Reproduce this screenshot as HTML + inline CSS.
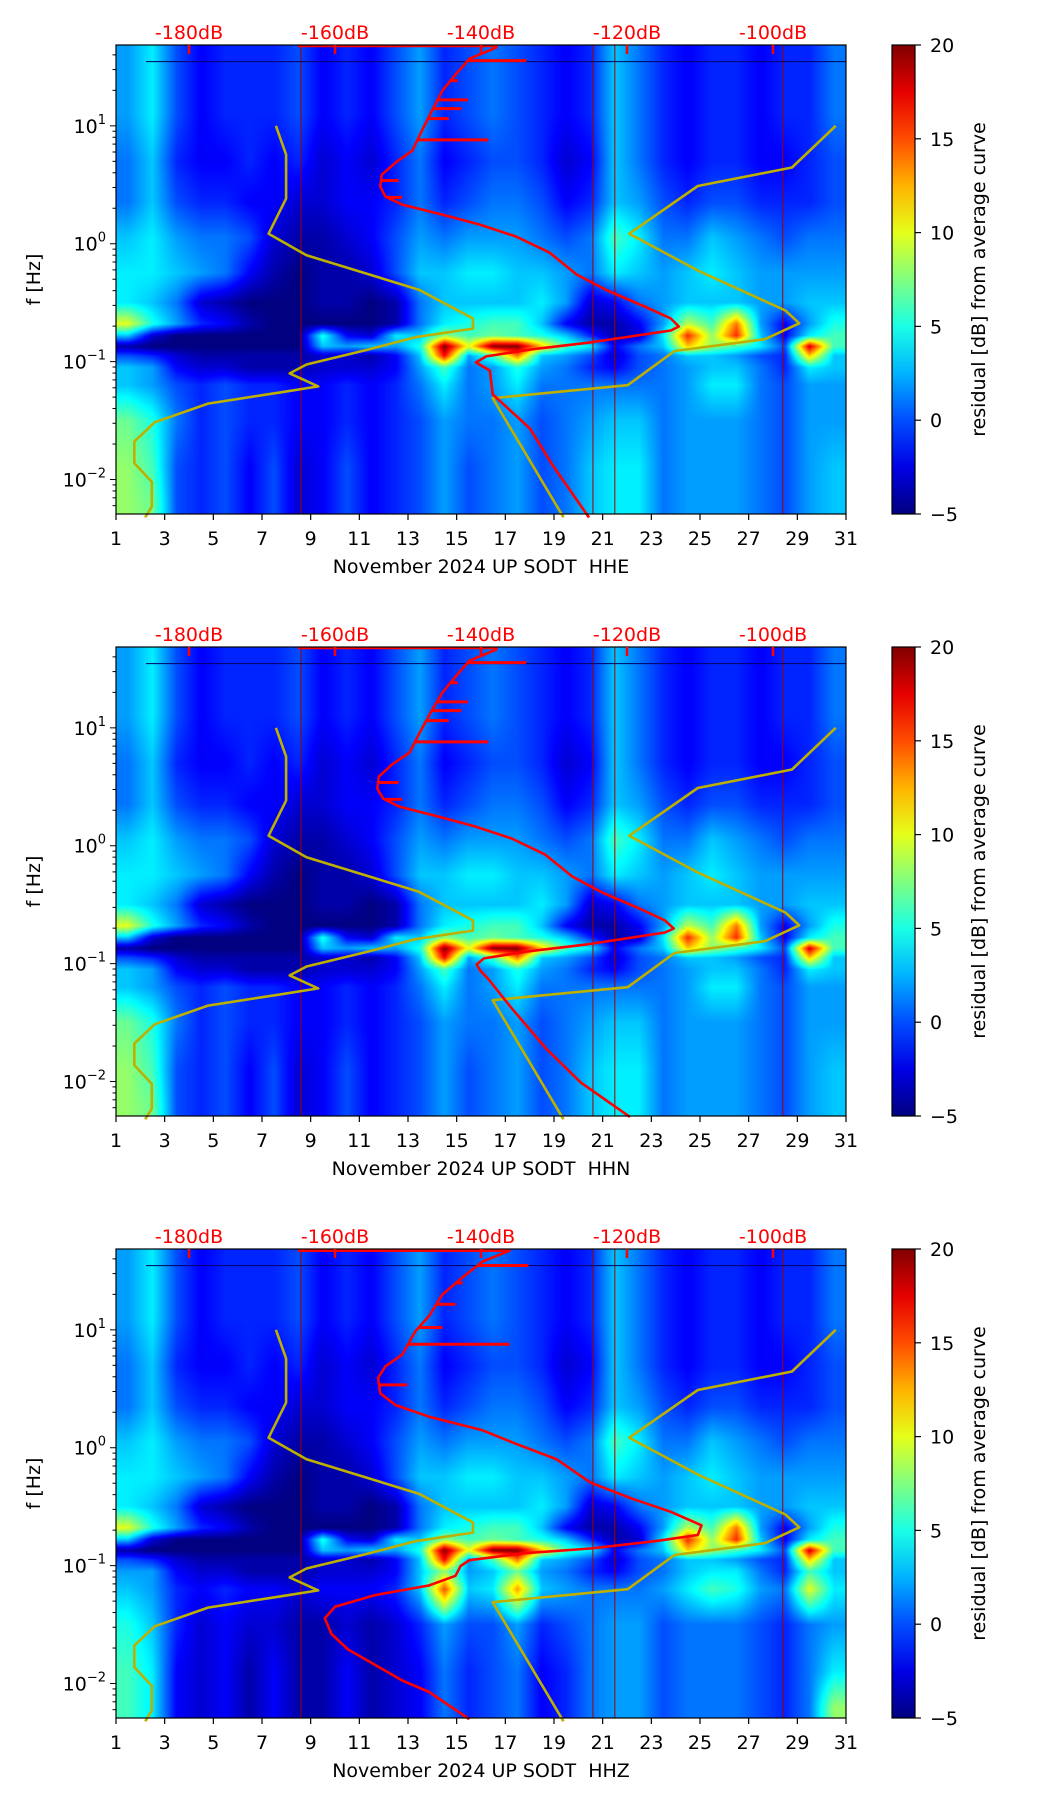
<!DOCTYPE html>
<html><head><meta charset="utf-8">
<style>
html,body{margin:0;padding:0;background:#fff;}
#wrap{position:relative;width:1052px;height:1806px;overflow:hidden;background:#fff;}
canvas{position:absolute;}
svg{position:absolute;left:0;top:0;}
text{font-family:"DejaVu Sans","Liberation Sans",sans-serif;}
</style></head>
<body>
<div id="wrap">
<svg id="ov" width="1052" height="1806"></svg>
</div>
<script>
// ---- layout ----
const PL=116, PR=846, PW=PR-PL, PH=469;
const panelTops=[45,647,1249];
const panelNames=["HHE","HHN","HHZ"];
const CBL=892, CBR=915;
const LOGMAX=Math.log10(48.5), LOGMIN=Math.log10(0.0051);

// ---- data: residual grid (rows = log10 f, cols = day 1..30) ----
const rowLogF=[1.5,1.1,0.7,0.35,0.05,-0.25,-0.5,-0.68,-0.78,-0.87,-0.95,-1.05,-1.2,-1.5,-1.9,-2.2];
const gridBase=[
[2,4,0,-2,-1,-1,-1,0,-2,-1,-2,0,2,-1,0,1,0,-1,-2,-1,3,1,-1,-2,-1,-1,-2,-1,-1,1],
[2,4,0,-2,-1,-1,-1,0,-2,-1,-2,0,2,-1,0,1,0,-1,-2,-1,3,1,-1,-2,-1,-1,-2,-1,-1,1],
[1,3,-1,-2,-2,-1,-2,-1,-3,-2,-3,-1,1,-2,-1,0,0,-1,-3,-2,3,1,-1,-2,-1,-1,-2,-2,-1,0],
[1,3,0,-1,-1,-2,-2,-3,-3,-2,-2,-1,1,-1,0,1,1,0,-2,-1,3,2,0,-1,0,0,-1,-1,-1,0],
[3,4,2,1,1,0,-3,-4,-4,-3,-2,0,2,1,2,2,2,1,0,1,6,4,1,1,3,2,1,0,1,1],
[4,4,3,2,1,-2,-4,-5,-4,-4,-3,0,3,3,4,4,3,3,2,1,4,3,2,3,4,3,2,2,2,2],
[4,3,1,-3,-4,-5,-5,-5,-4,-4,-5,-4,1,3,3,3,3,4,2,-3,-2,1,2,3,3,3,2,2,3,3],
[10,5,2,-1,-2,-4,-5,-5,-5,-5,-5,-4,1,4,5,6,6,3,-2,-4,-4,-2,2,9,6,14,2,-2,2,5],
[3,-3,-5,-5,-5,-5,-5,-5,5,-2,-3,4,3,8,6,7,6,5,3,-1,-4,-3,4,16,8,16,3,-2,4,6],
[-4,-5,-5,-5,-5,-5,-5,-5,3,2,3,2,5,20,10,20,20,12,6,4,-2,1,3,12,8,6,4,0,18,6],
[0,-1,-3,-4,-4,-4,-4,-4,-3,-3,-4,-2,3,17,2,6,14,3,2,0,-3,0,1,3,3,2,0,-1,12,3],
[3,2,-2,-3,-3,-4,-4,-4,-3,-3,-3,-2,2,6,1,2,5,2,1,-1,-2,0,1,2,3,3,1,-1,4,3],
[3,2,0,-1,0,-1,-1,-2,-2,-1,-2,-1,1,4,1,2,4,1,1,1,1,1,1,2,4,4,1,0,2,2],
[7,5,1,-1,0,-1,-1,-2,-2,-1,-2,-1,0,2,1,1,2,0,1,2,3,3,1,2,2,2,1,0,2,2],
[8,6,0,-1,0,-2,0,-3,-2,0,-2,-1,0,2,0,1,2,0,1,3,4,4,1,2,2,2,1,0,2,3],
[8,7,0,-1,0,-2,0,-3,-2,0,-2,-1,0,2,0,1,2,0,1,3,4,4,1,2,2,2,1,0,2,3]];
// HHZ low-frequency rows (rows 11..15)
const gridZLow=[
[2,2,-2,-3,-3,-4,-4,-4,-3,-3,-3,-2,3,8,2,3,7,2,1,-1,-2,0,1,3,4,4,1,-1,6,3],
[3,2,-1,-2,-1,-2,-2,-3,-2,-2,-2,-1,3,15,3,4,13,3,2,1,1,1,2,4,6,5,2,1,10,4],
[5,3,-1,-3,-2,-3,-3,-4,-4,-3,-4,-3,-1,2,0,0,2,-1,0,1,2,2,0,1,1,1,0,-1,1,2],
[6,4,-2,-3,-2,-4,-2,-4,-4,-2,-4,-3,-2,1,-1,0,1,-2,-1,1,2,2,0,1,1,1,0,-1,1,4],
[6,4,-2,-3,-2,-4,-2,-4,-4,-2,-4,-3,-2,1,-1,0,1,-2,-1,1,2,2,0,1,1,1,0,-1,1,8]];

// ---- data: red curves (dB, log10 f) ----
const redDbE=[-165.1,-137.9,-137.9,-141.6,-143.5,-145.3,-146.7,-148.1,-149.4,-151.7,-153.6,-153.8,-153.1,-150.8,-145.3,-140.2,-135.2,-130.6,-126.9,-122.7,-117.6,-114.0,-112.9,-114.0,-125.0,-133.3,-139.3,-140.7,-138.8,-138.4,-133.3,-130.1,-125.2];
const redLfE=[1.678,1.678,1.664,1.569,1.434,1.298,1.129,0.959,0.790,0.688,0.586,0.485,0.400,0.332,0.247,0.163,0.061,-0.075,-0.261,-0.397,-0.532,-0.634,-0.702,-0.736,-0.837,-0.898,-0.956,-1.007,-1.075,-1.278,-1.566,-1.888,-2.322];
const redDbN=[-165.1,-137.9,-137.9,-141.6,-143.5,-145.3,-146.9,-148.4,-149.8,-152.2,-154.0,-154.2,-153.4,-151.2,-145.8,-140.8,-135.8,-131.2,-127.5,-123.4,-118.3,-114.8,-113.6,-114.8,-125.5,-133.8,-139.6,-140.6,-140.1,-139.0,-135.9,-131.1,-126.3,-119.6];
const redLfN=[1.678,1.678,1.664,1.569,1.434,1.298,1.129,0.959,0.790,0.688,0.586,0.485,0.400,0.332,0.247,0.163,0.061,-0.075,-0.261,-0.397,-0.532,-0.634,-0.702,-0.736,-0.837,-0.898,-0.956,-1.007,-1.06,-1.13,-1.37,-1.72,-2.01,-2.30];
const redDbZ=[-165.1,-136.1,-139.8,-142.5,-145.3,-147.1,-149.0,-150.8,-153.1,-154.1,-153.8,-151.7,-147.1,-139.8,-135.2,-129.6,-125.0,-119.5,-114.0,-109.8,-110.3,-115.8,-125.0,-134.2,-141.6,-142.8,-143.5,-147.1,-154.5,-160.0,-161.4,-160.5,-158.2,-154.5,-150.8,-147.1,-141.6];
const redLfZ=[1.671,1.671,1.579,1.447,1.299,1.118,0.987,0.789,0.691,0.592,0.461,0.362,0.263,0.148,0.033,-0.099,-0.296,-0.428,-0.543,-0.658,-0.740,-0.789,-0.855,-0.895,-0.954,-1.003,-1.086,-1.168,-1.250,-1.349,-1.447,-1.579,-1.711,-1.842,-1.974,-2.072,-2.303];
// spikes: [log10 f, dB end]
const spikeLfE=[1.553,0.881,1.22,1.146,1.383,1.061,0.536,0.393];
const spikeDbE=[-133.8,-139.0,-141.8,-142.7,-143.2,-144.4,-151.3,-150.8];
const spikeLfZ=[1.546,0.878,1.217,1.02,1.398,0.533];
const spikeDbZ=[-133.5,-136.1,-143.5,-145.3,-142.5,-150.1];

// ---- data: noise models (gold) ----
const nlnmDb=[-168.1,-166.7,-166.7,-169.1,-163.9,-148.5,-141.1,-141.1,-149.0,-155.9,-163.9,-166.2,-162.3,-167.4,-177.4,-184.7,-187.5,-187.5,-185.1,-185.1,-186.0];
const nlnmLf=[1.0,0.756,0.383,0.085,-0.098,-0.39,-0.634,-0.72,-0.793,-0.905,-1.024,-1.10,-1.21,-1.26,-1.356,-1.515,-1.678,-1.861,-2.02,-2.23,-2.32];
const nhnmDb=[-91.4,-97.4,-110.3,-119.7,-110.3,-98.3,-96.4,-101.1,-113.5,-119.9,-138.4,-128.7];
const nhnmLf=[1.0,0.647,0.49,0.085,-0.227,-0.566,-0.675,-0.81,-0.91,-1.20,-1.31,-2.32];

// ---- axes ticks ----
const xTicks=[1,3,5,7,9,11,13,15,17,19,21,23,25,27,29,31];
const dbTicks=[-180,-160,-140,-120,-100];
const yDecades=[1,0,-1,-2];
const cbTicks=[20,15,10,5,0,-5];
const vLinesDay=[8.6,20.6,21.5,28.4];

// ---- scale functions ----
function xDay(d){return PL+(d-1)/30*PW;}
function xDb(db){return PL+(db+190)/100*PW;}
function yLf(top,lf){return top+(LOGMAX-lf)/(LOGMAX-LOGMIN)*PH;}
function jet(t){t=Math.max(0,Math.min(1,t));const c=v=>Math.round(255*Math.max(0,Math.min(1,v)));
 return [c(1.5-Math.abs(4*t-3)),c(1.5-Math.abs(4*t-2)),c(1.5-Math.abs(4*t-1))];}

const NS="http://www.w3.org/2000/svg";
const ov=document.getElementById('ov');
const wrap=document.getElementById('wrap');
function mk(tag,attrs,parent){const e=document.createElementNS(NS,tag);for(const k in attrs)e.setAttribute(k,attrs[k]);(parent||ov).appendChild(e);return e;}

function gridFor(p){
 if(p!==2) return gridBase;
 return gridBase.slice(0,11).concat(gridZLow);
}
function sample(g,day,lf){
 let cx=day-1.5; cx=Math.max(0,Math.min(29,cx)); const i0=Math.floor(cx), i1=Math.min(29,i0+1), fx=cx-i0;
 let r=0; while(r<rowLogF.length-2 && lf<rowLogF[r+1]) r++;
 let fy; if(lf>=rowLogF[0]){r=0;fy=0;} else if(lf<=rowLogF[rowLogF.length-1]){r=rowLogF.length-2;fy=1;}
 else fy=(rowLogF[r]-lf)/(rowLogF[r]-rowLogF[r+1]);
 const a=g[r][i0]*(1-fx)+g[r][i1]*fx, b=g[r+1][i0]*(1-fx)+g[r+1][i1]*fx;
 return a*(1-fy)+b*fy;
}

panelTops.forEach((top,p)=>{
 const cv=document.createElement('canvas');
 cv.width=PW;cv.height=PH;cv.style.left=PL+'px';cv.style.top=top+'px';
 
 
 wrap.insertBefore(cv,ov);
 const ctx=cv.getContext('2d');const im=ctx.createImageData(PW,PH);const g=gridFor(p);
 for(let y=0;y<PH;y++){const lf=LOGMAX-(y+0.5)/PH*(LOGMAX-LOGMIN);
  for(let x=0;x<PW;x++){const day=1+(x+0.5)/PW*30;const v=sample(g,day,lf);const c=jet((v+5)/25);
   const k=(y*PW+x)*4;im.data[k]=c[0];im.data[k+1]=c[1];im.data[k+2]=c[2];im.data[k+3]=255;}}
 ctx.putImageData(im,0,0);

 const G=mk('g',{});
 
 
 vLinesDay.forEach(d=>{const l=mk('line',{x1:xDay(d),x2:xDay(d),y1:top,y2:top+PH,stroke:'#a00000','stroke-width':1},G);
  });
 const hl=mk('line',{x1:PL+30,x2:PR,y1:yLf(top,1.545),y2:yLf(top,1.545),stroke:'#000060','stroke-width':1},G);
 

 const pts=(dbs,lfs)=>dbs.map((d,i)=>xDb(d).toFixed(1)+','+yLf(top,lfs[i]).toFixed(1)).join(' ');
 const n1=mk('polyline',{points:pts(nlnmDb,nlnmLf),fill:'none',stroke:'#bdb000','stroke-width':2.6,'stroke-linejoin':'round'},G);
 
 const n2=mk('polyline',{points:pts(nhnmDb,nhnmLf),fill:'none',stroke:'#bdb000','stroke-width':2.6,'stroke-linejoin':'round'},G);
 
 const rd=[redDbE,redDbN,redDbZ][p], rl=[redLfE,redLfN,redLfZ][p];
 const rc=mk('polyline',{points:pts(rd,rl),fill:'none',stroke:'#ff0000','stroke-width':2.6,'stroke-linejoin':'round'},G);
 
 const sl=p===2?spikeLfZ:spikeLfE, sd=p===2?spikeDbZ:spikeDbE;
 sl.forEach((lf,i)=>{let x0=null;for(let j=1;j<rl.length;j++){if((rl[j-1]-lf)*(rl[j]-lf)<=0){const f=(lf-rl[j-1])/(rl[j]-rl[j-1]||1);x0=rd[j-1]+f*(rd[j]-rd[j-1]);break;}}
  if(x0===null)return;const s=mk('line',{x1:xDb(x0),x2:xDb(sd[i]),y1:yLf(top,lf),y2:yLf(top,lf),stroke:'#ff0000','stroke-width':3},G);
  });

 const fr=mk('rect',{x:PL,y:top,width:PW,height:PH,fill:'none',stroke:'#000','stroke-width':1.2},G);
 
 xTicks.forEach(d=>{const x=xDay(d);mk('line',{x1:x,x2:x,y1:top+PH,y2:top+PH+6,stroke:'#000','stroke-width':1.2},G);
  const t=mk('text',{x:x,y:top+PH+31,'font-size':19,'text-anchor':'middle',fill:'#000'},G);t.textContent=d;
  });
 const xl=mk('text',{x:(PL+PR)/2,y:top+PH+59,'font-size':19,'text-anchor':'middle',fill:'#000'},G);
 xl.textContent='November 2024 UP SODT \u00a0'+panelNames[p];
 
 dbTicks.forEach(db=>{const x=xDb(db);mk('line',{x1:x,x2:x,y1:top,y2:top+9,stroke:'#ff0000','stroke-width':2.5},G);
  const t=mk('text',{x:x,y:top-6,'font-size':19,'text-anchor':'middle',fill:'#ff0000'},G);t.textContent=db+'dB';
  });
 for(let dec=-3;dec<=1;dec++){for(let m=1;m<10;m++){const lf=dec+Math.log10(m);if(lf>LOGMAX||lf<LOGMIN)continue;
  const y=yLf(top,lf);mk('line',{x1:PL-(m===1?6:3.5),x2:PL,y1:y,y2:y,stroke:'#000','stroke-width':1},G);}}
 yDecades.forEach(dec=>{const y=yLf(top,dec);const t=mk('text',{x:PL-10,y:y+7,'font-size':19,'text-anchor':'end',fill:'#000'},G);
  const b=mk('tspan',{},t);b.textContent='10';
  const s=mk('tspan',{'font-size':13,dy:-9},t);s.textContent=dec<0?'\u2212'+(-dec):String(dec);
  });
 const yl=mk('text',{x:0,y:0,'font-size':19,'text-anchor':'middle',fill:'#000',transform:`translate(40,${top+PH/2}) rotate(-90)`},G);
 yl.textContent='f [Hz]';

 const gid='jg'+p;const defs=mk('defs',{},G);const lg=mk('linearGradient',{id:gid,x1:0,y1:1,x2:0,y2:0},defs);
 for(let i=0;i<=10;i++){const c=jet(i/10);mk('stop',{offset:i/10,'stop-color':`rgb(${c[0]},${c[1]},${c[2]})`},lg);}
 const cb=mk('rect',{x:CBL,y:top,width:CBR-CBL,height:PH,fill:`url(#${gid})`,stroke:'#000','stroke-width':1.2},G);
 
 cbTicks.forEach(v=>{const y=top+(20-v)/25*PH;mk('line',{x1:CBR,x2:CBR+6,y1:y,y2:y,stroke:'#000','stroke-width':1.2},G);
  const t=mk('text',{x:CBR+15,y:y+7,'font-size':19,fill:'#000'},G);t.textContent=v<0?'\u2212'+(-v):String(v);
  });
 const cl=mk('text',{x:0,y:0,'font-size':19,'text-anchor':'middle',fill:'#000',transform:`translate(985,${top+PH/2}) rotate(-90)`},G);
 cl.textContent='residual [dB] from average curve';
});
</script>
</body></html>
